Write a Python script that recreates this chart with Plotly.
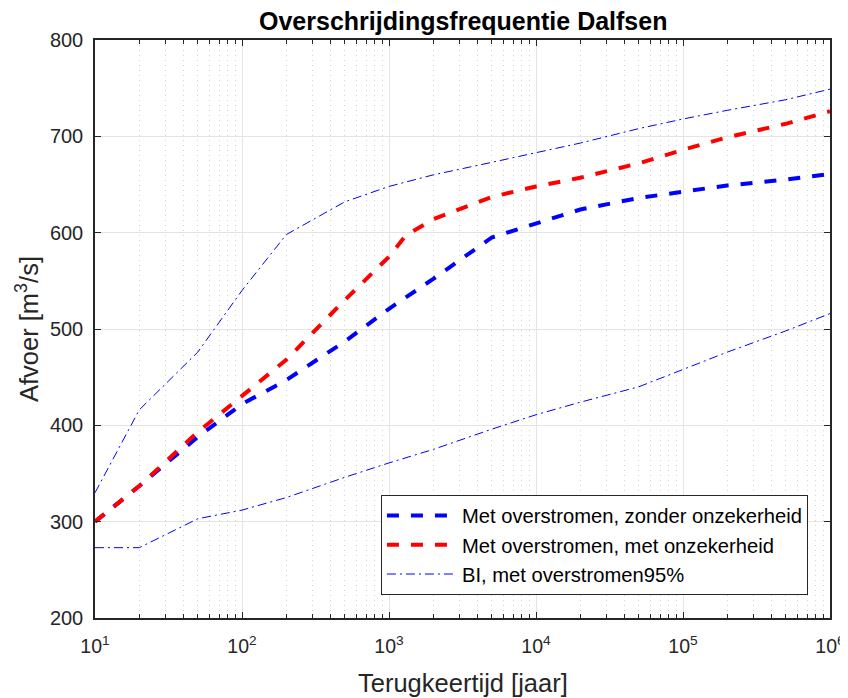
import plotly.graph_objects as go

# Data
x_blue = [10, 20, 50, 100, 200, 500, 1000, 2000, 5000, 1e4, 2e4, 5e4, 1e5, 2e5, 5e5, 1e6]
y_blue = [300, 337, 388, 422, 447, 487, 521, 552, 595, 610, 624, 636, 643, 649, 655, 661]

x_red = [10, 20, 50, 100, 200, 500, 1000, 1300, 2000, 5000, 1e4, 2e4, 5e4, 1e5, 2e5, 5e5, 1e6]
y_red = [300, 337, 393, 430, 468, 530, 575, 597, 614, 637, 648, 657, 672, 686, 699, 713, 726]

x_bi = [10, 20, 50, 100, 200, 500, 1000, 2000, 5000, 1e4, 2e4, 5e4, 1e5, 2e5, 5e5, 1e6]
y_bi_upper = [330, 416, 476, 540, 598, 632, 648, 660, 673, 683, 693, 708, 718, 727, 738, 749]
y_bi_lower = [273, 273, 303, 312, 325, 346, 361, 375, 396, 411, 424, 440, 458, 476, 498, 516]

x_tickvals = [10, 100, 1000, 1e4, 1e5, 1e6]
x_ticktext = ["10<sup>1</sup>", "10<sup>2</sup>", "10<sup>3</sup>", "10<sup>4</sup>", "10<sup>5</sup>", "10<sup>6</sup>"]
x_minor = [m * 10 ** k for k in range(1, 6) for m in range(2, 10)]
y_tickvals = [200, 300, 400, 500, 600, 700, 800]

names = ["Met overstromen, zonder onzekerheid", "Met overstromen, met onzekerheid", "BI, met overstromen95%"]
title_text = "<b>Overschrijdingsfrequentie Dalfsen</b>"
x_title = "Terugkeertijd [jaar]"
y_title = "Afvoer [m<sup>3</sup>/s]"

dashdot = "9px,4px,2px,4px"

fig = go.Figure()
fig.add_trace(go.Scatter(x=x_blue, y=y_blue, mode="lines", name=names[0],
                         line=dict(color="#0000FF", width=4, dash="12px,12px")))
fig.add_trace(go.Scatter(x=x_red, y=y_red, mode="lines", name=names[1],
                         line=dict(color="#FF0000", width=4, dash="12px,12px")))
fig.add_trace(go.Scatter(x=x_bi, y=y_bi_upper, mode="lines", name=names[2],
                         line=dict(color="#0000FF", width=1, dash=dashdot)))
fig.add_trace(go.Scatter(x=x_bi, y=y_bi_lower, mode="lines", name=names[2], showlegend=False,
                         line=dict(color="#0000FF", width=1, dash=dashdot)))

axis_color = "#262626"
# page has an 8px body margin, so the figure is 8px smaller on each axis
fig.update_layout(
    width=840, height=690,
    margin=dict(l=87, r=18, t=32, b=80, autoexpand=False),
    paper_bgcolor="white", plot_bgcolor="white",
    font=dict(family="Liberation Sans, Arial, sans-serif", color=axis_color, size=20),
    showlegend=True,
    legend=dict(x=0.970, y=0.040, xanchor="right", yanchor="bottom",
                bgcolor="white", bordercolor=axis_color, borderwidth=1,
                font=dict(size=20.2, color="black"), tracegroupgap=0,
                itemwidth=70),
    annotations=[
        dict(text=title_text, xref="paper", yref="paper", x=0.5, y=1, yshift=19,
             xanchor="center", yanchor="middle", showarrow=False,
             font=dict(size=25, color="black")),
        dict(text=x_title, xref="paper", yref="paper", x=0.5, y=0, yshift=-65,
             xanchor="center", yanchor="middle", showarrow=False,
             font=dict(size=25.5, color=axis_color)),
        dict(text=y_title, xref="paper", yref="paper", x=0, y=0.5, xshift=-68,
             xanchor="center", yanchor="middle", showarrow=False, textangle=-90,
             font=dict(size=25.5, color=axis_color)),
    ],
)
fig.update_xaxes(
    type="log", range=[1, 6], automargin=False,
    tickmode="array", tickvals=x_tickvals, ticktext=x_ticktext,
    ticks="inside", ticklen=6, tickwidth=1, tickcolor=axis_color,
    showline=True, linecolor=axis_color, linewidth=1.5, mirror="ticks",
    showgrid=True, gridcolor="#e4e4e4", gridwidth=1,
    minor=dict(tickmode="array", tickvals=x_minor, ticks="inside", ticklen=4,
               tickcolor=axis_color, showgrid=True, gridcolor="#d2d2d2",
               griddash="1px,4px", gridwidth=1),
    tickfont=dict(size=19.5), ticklabelstandoff=10, ticklabeloverflow="allow",
    zeroline=False,
)
fig.update_yaxes(
    range=[200, 800], tickmode="array", tickvals=y_tickvals, automargin=False,
    ticks="inside", ticklen=6, tickwidth=1, tickcolor=axis_color,
    showline=True, linecolor=axis_color, linewidth=1.5, mirror="ticks",
    showgrid=True, gridcolor="#e4e4e4", gridwidth=1,
    tickfont=dict(size=20), ticklabelstandoff=6, zeroline=False,
)

fig.write_html("out.html")
